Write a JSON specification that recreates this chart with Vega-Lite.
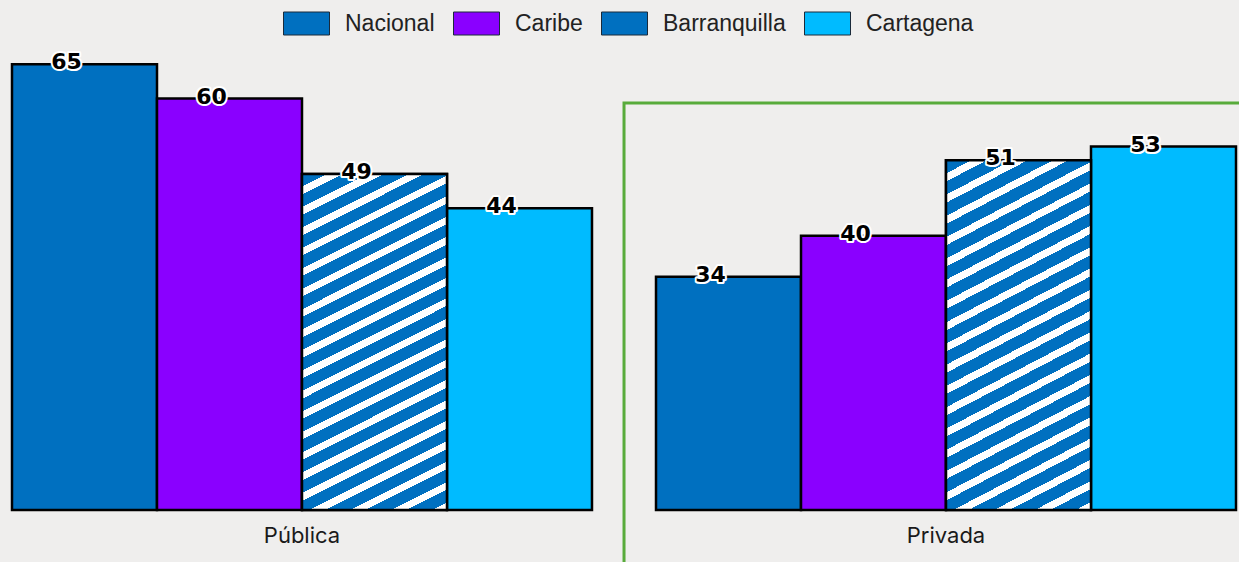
{
  "$schema": "https://vega.github.io/schema/vega-lite/v6.json",
  "width": 1224,
  "height": 480,
  "autosize": {"type": "none"},
  "padding": {"left": 12, "top": 30, "right": 3, "bottom": 52},
  "background": "#efeeed",
  "config": {"view": {"stroke": null}},
  "data": {
    "values": [
      {"tipo": "Pública", "serie": "Nacional", "valor": 65},
      {"tipo": "Pública", "serie": "Caribe", "valor": 60},
      {"tipo": "Pública", "serie": "Barranquilla", "valor": 49},
      {"tipo": "Pública", "serie": "Cartagena", "valor": 44},
      {"tipo": "Privada", "serie": "Nacional", "valor": 34},
      {"tipo": "Privada", "serie": "Caribe", "valor": 40},
      {"tipo": "Privada", "serie": "Barranquilla", "valor": 51},
      {"tipo": "Privada", "serie": "Cartagena", "valor": 53}
    ]
  },
  "encoding": {
    "x": {"field": "tipo", "type": "nominal",
          "scale": {"domain": ["Pública", "Privada"], "paddingInner": 0.0994, "paddingOuter": 0},
          "axis": {"title": null, "labelAngle": 0, "domain": false, "ticks": false, "labelFont": "Inter", "labelFontSize": 22, "labelColor": "#1a1a1a", "labelPadding": 15}}
  },
  "layer": [
    {
      "transform": [{"filter": "datum.tipo === 'Privada' && datum.serie === 'Nacional'"}],
      "mark": {"type": "bar", "fill": "transparent", "stroke": "#58ab3b", "strokeWidth": 3, "clip": false, "width": {"band": 1.1103}},
      "encoding": {
        "y": {"datum": 59.35, "type": "quantitative", "axis": null},
        "y2": {"datum": -12}
      }
    },
    {
      "mark": {"type": "bar", "stroke": "#000000", "strokeWidth": 2.5},
      "encoding": {
        "xOffset": {"field": "serie", "type": "nominal", "scale": {"domain": ["Nacional", "Caribe", "Barranquilla", "Cartagena"], "paddingInner": 0, "paddingOuter": 0}},
        "y": {"field": "valor", "type": "quantitative", "scale": {"domain": [0, 70]}, "axis": null},
        "fill": {
          "field": "serie", "type": "nominal",
          "scale": {
            "domain": ["Nacional", "Caribe", "Barranquilla", "Cartagena"],
            "range": ["#0070C0", "#8A00FF", "#0070C0", "#00BBFF"]
          },
          "legend": {
            "orient": "none", "legendX": 271, "legendY": -30, "direction": "horizontal", "title": null,
            "labelFont": "Liberation Sans", "labelFontSize": 23, "labelColor": "#222222",
            "symbolType": "M-1,-0.5H1V0.5H-1Z", "symbolSize": 2116, "symbolStrokeColor": "#1a2a3a", "symbolStrokeWidth": 1,
            "labelOffset": 15, "columnPadding": 16, "symbolOpacity": 1
          }
        }
      }
    },
    {
      "transform": [{"filter": "datum.serie === 'Barranquilla'"}],
      "mark": {"type": "bar", "stroke": "#000000", "strokeWidth": 2.5,
        "fill": {"gradient": "linear", "x1": 0, "y1": 0, "x2": 0.251, "y2": 1.162, "stops": [
                {"offset": 0, "color": "#0070C0"}, {"offset": 0.031, "color": "#0070C0"}, {"offset": 0.031, "color": "#ffffff"}, {"offset": 0.05, "color": "#ffffff"},
                {"offset": 0.05, "color": "#0070C0"}, {"offset": 0.081, "color": "#0070C0"}, {"offset": 0.081, "color": "#ffffff"}, {"offset": 0.1, "color": "#ffffff"},
                {"offset": 0.1, "color": "#0070C0"}, {"offset": 0.131, "color": "#0070C0"}, {"offset": 0.131, "color": "#ffffff"}, {"offset": 0.15, "color": "#ffffff"},
                {"offset": 0.15, "color": "#0070C0"}, {"offset": 0.181, "color": "#0070C0"}, {"offset": 0.181, "color": "#ffffff"}, {"offset": 0.2, "color": "#ffffff"},
                {"offset": 0.2, "color": "#0070C0"}, {"offset": 0.231, "color": "#0070C0"}, {"offset": 0.231, "color": "#ffffff"}, {"offset": 0.25, "color": "#ffffff"},
                {"offset": 0.25, "color": "#0070C0"}, {"offset": 0.281, "color": "#0070C0"}, {"offset": 0.281, "color": "#ffffff"}, {"offset": 0.3, "color": "#ffffff"},
                {"offset": 0.3, "color": "#0070C0"}, {"offset": 0.331, "color": "#0070C0"}, {"offset": 0.331, "color": "#ffffff"}, {"offset": 0.35, "color": "#ffffff"},
                {"offset": 0.35, "color": "#0070C0"}, {"offset": 0.381, "color": "#0070C0"}, {"offset": 0.381, "color": "#ffffff"}, {"offset": 0.4, "color": "#ffffff"},
                {"offset": 0.4, "color": "#0070C0"}, {"offset": 0.431, "color": "#0070C0"}, {"offset": 0.431, "color": "#ffffff"}, {"offset": 0.45, "color": "#ffffff"},
                {"offset": 0.45, "color": "#0070C0"}, {"offset": 0.481, "color": "#0070C0"}, {"offset": 0.481, "color": "#ffffff"}, {"offset": 0.5, "color": "#ffffff"},
                {"offset": 0.5, "color": "#0070C0"}, {"offset": 0.531, "color": "#0070C0"}, {"offset": 0.531, "color": "#ffffff"}, {"offset": 0.55, "color": "#ffffff"},
                {"offset": 0.55, "color": "#0070C0"}, {"offset": 0.581, "color": "#0070C0"}, {"offset": 0.581, "color": "#ffffff"}, {"offset": 0.6, "color": "#ffffff"},
                {"offset": 0.6, "color": "#0070C0"}, {"offset": 0.631, "color": "#0070C0"}, {"offset": 0.631, "color": "#ffffff"}, {"offset": 0.65, "color": "#ffffff"},
                {"offset": 0.65, "color": "#0070C0"}, {"offset": 0.681, "color": "#0070C0"}, {"offset": 0.681, "color": "#ffffff"}, {"offset": 0.7, "color": "#ffffff"},
                {"offset": 0.7, "color": "#0070C0"}, {"offset": 0.731, "color": "#0070C0"}, {"offset": 0.731, "color": "#ffffff"}, {"offset": 0.75, "color": "#ffffff"},
                {"offset": 0.75, "color": "#0070C0"}, {"offset": 0.781, "color": "#0070C0"}, {"offset": 0.781, "color": "#ffffff"}, {"offset": 0.8, "color": "#ffffff"},
                {"offset": 0.8, "color": "#0070C0"}, {"offset": 0.831, "color": "#0070C0"}, {"offset": 0.831, "color": "#ffffff"}, {"offset": 0.85, "color": "#ffffff"},
                {"offset": 0.85, "color": "#0070C0"}, {"offset": 0.881, "color": "#0070C0"}, {"offset": 0.881, "color": "#ffffff"}, {"offset": 0.9, "color": "#ffffff"},
                {"offset": 0.9, "color": "#0070C0"}, {"offset": 0.931, "color": "#0070C0"}, {"offset": 0.931, "color": "#ffffff"}, {"offset": 0.95, "color": "#ffffff"},
                {"offset": 0.95, "color": "#0070C0"}, {"offset": 0.981, "color": "#0070C0"}, {"offset": 0.981, "color": "#ffffff"}, {"offset": 1, "color": "#ffffff"}
              ]}},
      "encoding": {
        "xOffset": {"field": "serie", "type": "nominal"},
        "y": {"field": "valor", "type": "quantitative"}
      }
    },
    {
      "mark": {"type": "text", "font": "DejaVu Sans", "fontWeight": "bold", "fontSize": 22, "baseline": "middle", "dx": -18, "dy": -2, "fill": "#ffffff", "stroke": "#ffffff", "strokeWidth": 4, "strokeJoin": "round"},
      "encoding": {
        "xOffset": {"field": "serie", "type": "nominal"},
        "y": {"field": "valor", "type": "quantitative"},
        "text": {"field": "valor", "type": "quantitative"}
      }
    },
    {
      "mark": {"type": "text", "font": "DejaVu Sans", "fontWeight": "bold", "fontSize": 22, "baseline": "middle", "dx": -18, "dy": -2, "fill": "#000000"},
      "encoding": {
        "xOffset": {"field": "serie", "type": "nominal"},
        "y": {"field": "valor", "type": "quantitative"},
        "text": {"field": "valor", "type": "quantitative"}
      }
    }
  ]
}
